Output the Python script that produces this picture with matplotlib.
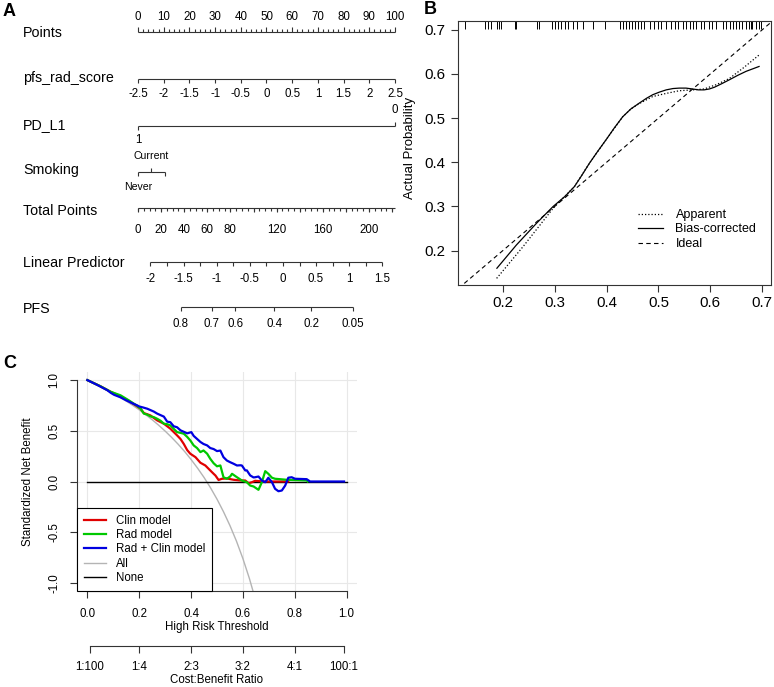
import numpy as np
import matplotlib
matplotlib.use("Agg")
import matplotlib.pyplot as plt

plt.rcParams['font.family'] = ['Liberation Sans', 'DejaVu Sans']

# ---------------- data ----------------
# A: nomogram scales
points_ticks = list(range(0, 101, 10))
rad_score_vals = [-2.5, -2, -1.5, -1, -0.5, 0, 0.5, 1, 1.5, 2, 2.5]
pdl1_levels = ["1", "0"]
pdl1_pts = [0, 100]
smoking_levels = ["Never", "Current", ""]
smoking_pts = [0, 5.1, 10.5]
total_labels = [0, 20, 40, 60, 80, 120, 160, 200]
total_max = 222.5
lp_labels = [-2, -1.5, -1, -0.5, 0, 0.5, 1, 1.5]
pfs_labels = [0.8, 0.7, 0.6, 0.4, 0.2, 0.05]

# B: calibration
rug_pred = [0.127, 0.165, 0.172, 0.178, 0.188, 0.193, 0.197, 0.223, 0.226, 0.265,
            0.270, 0.294, 0.300, 0.306, 0.313, 0.319, 0.326, 0.335, 0.342, 0.354,
            0.374, 0.396, 0.425, 0.431, 0.438, 0.444, 0.449, 0.454, 0.460, 0.467,
            0.473, 0.483, 0.492, 0.499, 0.505, 0.515, 0.524, 0.531, 0.537, 0.547,
            0.553, 0.560, 0.566, 0.572, 0.582, 0.588, 0.598, 0.604, 0.611, 0.624,
            0.630, 0.637, 0.643, 0.649, 0.656, 0.662, 0.669, 0.675, 0.678, 0.681,
            0.688, 0.694, 0.698]
bias_x = [0.1885, 0.226, 0.265, 0.297, 0.320, 0.338, 0.352, 0.367, 0.383, 0.399,
          0.415, 0.431, 0.447, 0.463, 0.477, 0.489, 0.502, 0.515, 0.528, 0.540,
          0.553, 0.566, 0.577, 0.588, 0.598, 0.608, 0.622, 0.637, 0.653, 0.669, 0.694]
bias_y = [0.160, 0.2125, 0.262, 0.300, 0.323, 0.345, 0.370, 0.398, 0.425, 0.451,
          0.478, 0.503, 0.521, 0.534, 0.545, 0.553, 0.559, 0.564, 0.567, 0.568,
          0.568, 0.566, 0.564, 0.564, 0.566, 0.570, 0.578, 0.587, 0.597, 0.606, 0.617]
app_x = [0.188, 0.239, 0.297, 0.338, 0.367, 0.399, 0.431, 0.447, 0.463, 0.489, 0.515,
         0.540, 0.566, 0.588, 0.612, 0.637, 0.665, 0.694]
app_y = [0.137, 0.209, 0.296, 0.345, 0.398, 0.451, 0.503, 0.521, 0.533, 0.549, 0.556,
         0.562, 0.564, 0.566, 0.576, 0.590, 0.615, 0.643]

# C: decision curves (standardized net benefit)
clin_t = [0, 0.05, 0.09, 0.128, 0.16, 0.186, 0.205, 0.218, 0.243, 0.269, 0.295, 0.32,
          0.346, 0.359, 0.372, 0.385, 0.397, 0.417, 0.436, 0.455, 0.474, 0.487, 0.494,
          0.506, 0.519, 0.538, 0.564, 0.59, 0.609, 0.622, 0.635, 0.647, 0.679, 0.775]
clin_nb = [1.0, 0.94, 0.885, 0.84, 0.795, 0.751, 0.718, 0.675, 0.652, 0.603, 0.57, 0.521,
           0.455, 0.42, 0.37, 0.31, 0.274, 0.24, 0.185, 0.158, 0.109, 0.076, 0.059,
           0.015, 0.027, 0.03, 0.017, 0.01, 0.01, -0.017, -0.007, 0.007, 0.0, 0.0]
rad_t = [0, 0.05, 0.09, 0.128, 0.16, 0.19, 0.205, 0.218, 0.231, 0.243, 0.256, 0.269,
         0.282, 0.295, 0.308, 0.32, 0.333, 0.346, 0.359, 0.372, 0.385, 0.397, 0.41,
         0.423, 0.436, 0.448, 0.462, 0.474, 0.487, 0.5, 0.513, 0.525, 0.538, 0.551,
         0.558, 0.577, 0.596, 0.615, 0.628, 0.641, 0.66, 0.673, 0.686, 0.698, 0.712,
         0.724, 0.769, 0.846, 0.85]
rad_nb = [1.0, 0.94, 0.885, 0.85, 0.80, 0.75, 0.72, 0.669, 0.66, 0.642, 0.635, 0.619,
          0.60, 0.57, 0.565, 0.553, 0.52, 0.487, 0.48, 0.471, 0.44, 0.405, 0.356,
          0.33, 0.29, 0.306, 0.274, 0.224, 0.18, 0.15, 0.158, 0.042, 0.027, 0.05,
          0.076, 0.042, 0.01, -0.007, -0.04, -0.049, -0.082, -0.007, 0.102, 0.076, 0.037,
          0.027, 0.017, 0.01, 0.0]
both_t = [0, 0.04, 0.077, 0.09, 0.103, 0.128, 0.15, 0.179, 0.192, 0.2, 0.215, 0.231,
          0.256, 0.269, 0.282, 0.295, 0.308, 0.32, 0.333, 0.346, 0.359, 0.372, 0.385,
          0.401, 0.41, 0.423, 0.436, 0.448, 0.462, 0.474, 0.487, 0.5, 0.513, 0.525,
          0.538, 0.551, 0.564, 0.577, 0.59, 0.596, 0.609, 0.615, 0.628, 0.641, 0.647,
          0.66, 0.673, 0.686, 0.698, 0.712, 0.724, 0.737, 0.75, 0.763, 0.775, 0.788,
          0.801, 0.846, 0.859, 0.99]
both_nb = [1.0, 0.95, 0.9, 0.875, 0.855, 0.83, 0.80, 0.765, 0.751, 0.74, 0.73, 0.718,
           0.69, 0.67, 0.655, 0.64, 0.59, 0.585, 0.545, 0.535, 0.505, 0.49, 0.475,
           0.487, 0.45, 0.42, 0.39, 0.37, 0.356, 0.33, 0.32, 0.30, 0.305, 0.24,
           0.207, 0.19, 0.175, 0.158, 0.16, 0.158, 0.109, 0.11, 0.06, 0.04, 0.042,
           0.049, 0.01, -0.007, 0.037, -0.007, -0.072, -0.096, -0.089, -0.04, 0.037, 0.042,
           0.027, 0.023, 0.0, 0.0]
all_t = [0, 0.025, 0.05, 0.075, 0.1, 0.125, 0.15, 0.175, 0.2, 0.225, 0.25, 0.275, 0.3,
         0.325, 0.35, 0.375, 0.4, 0.425, 0.45, 0.475, 0.5, 0.525, 0.55, 0.575, 0.6,
         0.625, 0.65]
all_nb = [1.0, 0.970, 0.938, 0.905, 0.870, 0.832, 0.793, 0.751, 0.707, 0.659, 0.609,
          0.555, 0.497, 0.435, 0.368, 0.296, 0.217, 0.132, 0.040, -0.062, -0.174,
          -0.298, -0.435, -0.588, -0.761, -0.957, -1.180]
none_t = [0, 1]
none_nb = [0, 0]
cb_ratios = [(1, 100), (1, 4), (2, 3), (3, 2), (4, 1), (100, 1)]

W, H = 774, 687
fig = plt.figure(figsize=(W / 100, H / 100), dpi=100)


def box(l, t, r, b):
    return [l / W, 1 - b / H, (r - l) / W, (b - t) / H]


ink = '#333333'

# ---------------- A: nomogram ----------------
ax = fig.add_axes(box(0, 0, 400, 340))
ppt = 2.57  # pixels per point
ax.set_xlim(-138 / ppt, (400 - 138) / ppt)
ax.set_ylim(340, 0)
ax.axis('off')
lab_x = (23 - 138) / ppt


def row(name, y):
    ax.text(lab_x, y, name, fontsize=10.3, ha='left', va='center')


def axis_line(y, x0, x1):
    ax.plot([x0, x1], [y, y], color=ink, lw=0.8, solid_capstyle='butt')


def ticks(xs, y, length):
    ax.vlines(xs, y, y + length, color=ink, lw=0.8)


def labels(xs, texts, y, size=8.3):
    for x, t in zip(xs, texts):
        ax.text(x, y, t, fontsize=size, ha='center', va='center')


# Points
row("Points", 33)
axis_line(32, 0, 100)
ticks(points_ticks, 32, -5)
ticks([v for v in range(0, 101, 2) if v % 10], 32, -3)
labels(points_ticks, [str(v) for v in points_ticks], 17)

# pfs_rad_score
rad_pos = [(v + 2.5) * 20 for v in rad_score_vals]
row("pfs_rad_score", 78)
axis_line(79, rad_pos[0], rad_pos[-1])
ticks(rad_pos, 79, 4)
labels(rad_pos, [f"{v:g}" for v in rad_score_vals], 94)

# PD_L1
row("PD_L1", 125)
axis_line(126, pdl1_pts[0], pdl1_pts[1])
ticks([pdl1_pts[0]], 126, 4)
ticks([pdl1_pts[1]], 126, -4)
labels([pdl1_pts[0]], [pdl1_levels[0]], 140)
labels([pdl1_pts[1]], [pdl1_levels[1]], 110)

# Smoking
row("Smoking", 170)
axis_line(172, smoking_pts[0], smoking_pts[-1])
ticks([smoking_pts[0], smoking_pts[2]], 172, 4)
ticks([smoking_pts[1]], 172, -4)
labels([smoking_pts[1]], [smoking_levels[1]], 156, size=7.6)
labels([smoking_pts[0]], [smoking_levels[0]], 187, size=7.6)

# Total Points
tp_scale = 100 / total_max
row("Total Points", 211)
axis_line(208, 0, total_max * tp_scale)
ticks([v * tp_scale for v in range(0, 221, 5)], 208, 3)
ticks([v * tp_scale for v in range(0, 221, 20)], 208, 4)
labels([v * tp_scale for v in total_labels], [str(v) for v in total_labels], 230)

# Linear Predictor
lp_to_pts = lambda lp: 56.4 + 25.77 * lp
row("Linear Predictor", 263)
axis_line(262, lp_to_pts(lp_labels[0]), lp_to_pts(lp_labels[-1]))
ticks([lp_to_pts(v) for v in np.arange(-2, 1.51, 0.25)], 262, 4)
labels([lp_to_pts(v) for v in lp_labels], [f"{v:g}" for v in lp_labels], 279)

# PFS (complementary log-log link of the linear predictor)
pfs_pos = [lp_to_pts(np.log(-np.log(s)) - 0.045) for s in pfs_labels]
row("PFS", 309)
axis_line(307, pfs_pos[0], pfs_pos[-1])
ticks(pfs_pos, 307, 4)
labels(pfs_pos, [f"{v:g}" for v in pfs_labels], 324)

# ---------------- B: calibration ----------------
axb = fig.add_axes(box(458, 21, 771, 285))
axb.set_xlim(0.1135, 0.717)
axb.set_ylim(0.122, 0.72)
axb.plot(app_x, app_y, color='k', lw=0.9, ls=(0, (1, 1.6)), label='Apparent')
axb.plot(bias_x, bias_y, color='k', lw=0.9, label='Bias-corrected')
axb.plot([0, 1], [0, 1], color='k', lw=0.8, ls=(0, (4, 3)), label='Ideal')
axb.vlines(rug_pred, 0.968, 1.0, transform=axb.get_xaxis_transform(), color='k', lw=0.7)
axb.set_xticks([0.2, 0.3, 0.4, 0.5, 0.6, 0.7])
axb.set_yticks([0.2, 0.3, 0.4, 0.5, 0.6, 0.7])
axb.tick_params(direction='out', length=5, width=0.8, colors=ink, labelcolor='k',
                labelsize=10.8)
axb.tick_params(axis='y', pad=4)
axb.tick_params(axis='x', pad=3)
for s in axb.spines.values():
    s.set_color(ink)
    s.set_linewidth(0.8)
axb.set_ylabel("Actual Probability", fontsize=9.5)
axb.yaxis.set_label_coords(-0.135, 0.52)
axb.legend(loc='upper left', bbox_to_anchor=(638 / W, 1 - 209 / H),
           bbox_transform=fig.transFigure, frameon=False, fontsize=9,
           handlelength=2.0, handletextpad=1.0, labelspacing=0.2,
           borderpad=0, borderaxespad=0)

# ---------------- C: decision curve ----------------
axc = fig.add_axes(box(77, 372, 357, 591))
axc.set_xlim(-0.04, 1.04)
axc.set_ylim(-1.08, 1.08)
axc.grid(color='#e8e8e8', lw=0.8)
axc.set_axisbelow(True)
axc.plot(all_t, all_nb, color='#b4b4b4', lw=1.0, label='All')
axc.plot(none_t, none_nb, color='k', lw=1.0, label='None')
axc.plot(clin_t, clin_nb, color='#e00000', lw=1.6, label='Clin model')
axc.plot(rad_t, rad_nb, color='#00c800', lw=1.6, label='Rad model')
axc.plot(both_t, both_nb, color='#0000e0', lw=1.6, label='Rad + Clin model')
axc.spines['top'].set_visible(False)
axc.spines['right'].set_visible(False)
axc.spines['left'].set_bounds(-1, 1)
axc.spines['bottom'].set_bounds(0, 1)
for s in ('left', 'bottom'):
    axc.spines[s].set_color(ink)
    axc.spines[s].set_linewidth(0.8)
axc.set_xticks([0, 0.2, 0.4, 0.6, 0.8, 1.0])
axc.set_yticks([-1, -0.5, 0, 0.5, 1])
axc.xaxis.set_major_formatter(matplotlib.ticker.FormatStrFormatter('%.1f'))
axc.yaxis.set_major_formatter(matplotlib.ticker.FormatStrFormatter('%.1f'))
axc.tick_params(direction='out', length=5, width=0.8, colors=ink, labelcolor='k',
                labelsize=8.3)
axc.tick_params(axis='x', pad=7)
axc.tick_params(axis='y', pad=7)
for t in axc.get_yticklabels():
    t.set_rotation(90)
    t.set_va('center')
axc.set_xlabel("High Risk Threshold", fontsize=8.3)
axc.xaxis.set_label_coords(0.5, -0.135)
axc.set_ylabel("Standardized Net Benefit", fontsize=8.3)
axc.yaxis.set_label_coords(-0.155, 0.5)
h, l = axc.get_legend_handles_labels()
order = [2, 3, 4, 0, 1]
leg = axc.legend([h[i] for i in order], [l[i] for i in order], loc='lower left',
                 bbox_to_anchor=(77 / W, 1 - 591 / H), bbox_transform=fig.transFigure,
                 fontsize=8.3, frameon=True, fancybox=False, edgecolor='k', framealpha=1,
                 handlelength=1.9, handletextpad=0.9, labelspacing=0.2,
                 borderpad=0.6, borderaxespad=0)
leg.get_frame().set_linewidth(0.8)

# cost:benefit axis
axcb = fig.add_axes(box(77, 645, 357, 646))
axcb.set_xlim(-0.04, 1.04)
axcb.set_yticks([])
for s in ('top', 'right', 'left'):
    axcb.spines[s].set_visible(False)
cb_pos = [c / (c + b) for c, b in cb_ratios]
axcb.spines['bottom'].set_bounds(cb_pos[0], cb_pos[-1])
axcb.spines['bottom'].set_color(ink)
axcb.spines['bottom'].set_linewidth(0.8)
axcb.patch.set_visible(False)
axcb.set_xticks(cb_pos)
axcb.set_xticklabels([f"{c}:{b}" for c, b in cb_ratios])
axcb.tick_params(direction='out', length=5, width=0.8, colors=ink, labelcolor='k',
                 labelsize=8.3, pad=6)
fig.text((77 + 140) / W, 1 - 680 / H, "Cost:Benefit Ratio", fontsize=8.3,
         ha='center', va='center')

# panel letters
fig.text(3 / W, 1 - 11 / H, "A", fontsize=13, weight='bold', va='center', ha='left')
fig.text(424 / W, 1 - 10 / H, "B", fontsize=13, weight='bold', va='center', ha='left')
fig.text(3 / W, 1 - 363 / H, "C", fontsize=13, weight='bold', va='center', ha='left')

fig.savefig("out.png", dpi=100)
